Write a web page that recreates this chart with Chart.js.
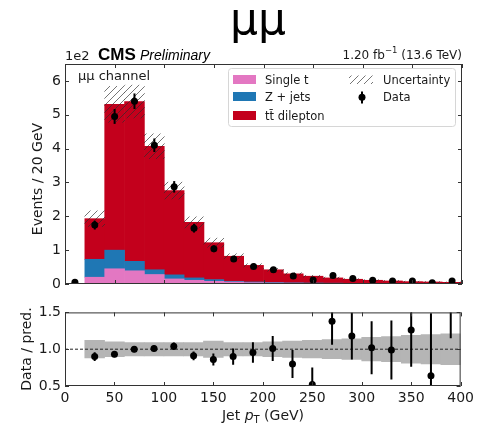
<!DOCTYPE html>
<html>
<head>
<meta charset="utf-8">
<script src="https://cdn.jsdelivr.net/npm/chart.js@4.4.1/dist/chart.umd.min.js"></script>
<style>
  body { margin: 0; background: #fff; }
  #wrap { position: relative; width: 478px; height: 427px; }
  canvas { position: absolute; left: 0; }
  #main { top: 0; }
  #ratio { top: 300px; }
</style>
</head>
<body>
<div id="wrap">
  <canvas id="main" width="478" height="300"></canvas>
  <canvas id="ratio" width="478" height="127"></canvas>
</div>
<script>
// jet pT bins (GeV), bin centres, 20 GeV wide
const ptBins = [10, 30, 50, 70, 90, 110, 130, 150, 170, 190, 210, 230, 250, 270, 290, 310, 330, 350, 370, 390];

// predicted events per bin, in units of 1e2
const singleTop = [0, 0.20, 0.45, 0.39, 0.28, 0.15, 0.11, 0.08, 0.06, 0.04, 0.03, 0.025, 0.02, 0.015, 0.012, 0.01, 0.008, 0.007, 0.006, 0.005];
const zJets     = [0, 0.53, 0.55, 0.28, 0.14, 0.12, 0.07, 0.05, 0.02, 0.02, 0.015, 0.01, 0.01, 0.01, 0.008, 0.005, 0.004, 0.003, 0.002, 0.002];
const ttDilep   = [0.01, 1.20, 4.31, 4.72, 3.65, 2.49, 1.64, 1.09, 0.74, 0.49, 0.375, 0.265, 0.20, 0.155, 0.12, 0.095, 0.078, 0.06, 0.052, 0.043];
// relative uncertainty on the prediction
const predUnc   = [0, 0.12, 0.10, 0.09, 0.09, 0.09, 0.09, 0.11, 0.09, 0.09, 0.10, 0.11, 0.12, 0.13, 0.14, 0.16, 0.17, 0.19, 0.20, 0.21];

// observed data (1e2 events) and stat errors
const dataVals = [0.05, 1.74, 4.95, 5.40, 4.10, 2.87, 1.65, 1.04, 0.74, 0.52, 0.42, 0.24, 0.12, 0.25, 0.165, 0.11, 0.089, 0.09, 0.038, 0.09];
const dataErr  = [0.02, 0.13, 0.22, 0.23, 0.20, 0.17, 0.13, 0.10, 0.09, 0.07, 0.065, 0.05, 0.035, 0.05, 0.04, 0.033, 0.03, 0.03, 0.02, 0.03];

// data / prediction
const ratioVals = [null, 0.90, 0.93, 1.00, 1.01, 1.04, 0.91, 0.86, 0.90, 0.955, 1.01, 0.80, 0.52, 1.38, 1.18, 1.02, 0.99, 1.26, 0.64, 1.80];
const ratioErr  = [null, 0.06, 0.04, 0.04, 0.04, 0.05, 0.06, 0.08, 0.11, 0.14, 0.17, 0.19, 0.23, 0.32, 0.32, 0.36, 0.40, 0.50, 0.85, 0.65];

const ptTicks = [0, 50, 100, 150, 200, 250, 300, 350, 400];

const FAM = "'DejaVu Sans', sans-serif";
const INK = '#1a1a1a';

const totals = ptBins.map((_, i) => singleTop[i] + zJets[i] + ttDilep[i]);

// "///" hatch for the uncertainty band
function makeHatch(ctx) {
  const tile = document.createElement('canvas');
  tile.width = tile.height = 7;
  const g = tile.getContext('2d');
  g.strokeStyle = 'rgba(45,45,45,0.65)';
  g.lineWidth = 1;
  g.beginPath();
  g.moveTo(-1, 8); g.lineTo(8, -1);
  g.moveTo(-1, 1); g.lineTo(1, -1);
  g.moveTo(6, 8); g.lineTo(8, 6);
  g.stroke();
  return ctx.createPattern(tile, 'repeat');
}

function text(ctx, str, x, y, font, align, color) {
  ctx.font = font;
  ctx.fillStyle = color || INK;
  ctx.textAlign = align || 'left';
  ctx.textBaseline = 'alphabetic';
  ctx.fillText(str, x, y);
}

function vtext(ctx, str, x, y, font) {
  ctx.save();
  ctx.translate(x, y);
  ctx.rotate(-Math.PI / 2);
  ctx.font = font;
  ctx.fillStyle = INK;
  ctx.textAlign = 'center';
  ctx.textBaseline = 'middle';
  ctx.fillText(str, 0, 0);
  ctx.restore();
}

// vertical error bars for any dataset carrying an `errors` array
const errorBars = {
  id: 'errorBars',
  afterDatasetsDraw(chart) {
    const { ctx, chartArea: a } = chart;
    ctx.save();
    ctx.beginPath();
    ctx.rect(a.left, a.top, a.right - a.left, a.bottom - a.top);
    ctx.clip();
    ctx.strokeStyle = '#000';
    ctx.lineWidth = 2;
    chart.data.datasets.forEach((ds, di) => {
      if (!ds.errors) return;
      const meta = chart.getDatasetMeta(di);
      const ys = chart.scales[meta.yAxisID];
      meta.data.forEach((pt, i) => {
        const v = ds.data[i].y, e = ds.errors[i];
        if (v == null || e == null) return;
        ctx.beginPath();
        ctx.moveTo(pt.x, ys.getPixelForValue(v - e));
        ctx.lineTo(pt.x, ys.getPixelForValue(v + e));
        ctx.stroke();
      });
    });
    ctx.restore();
  }
};

// axes frame with inward ticks on all four sides
function frame(yId) {
  return {
    id: 'frame',
    afterDatasetsDraw(chart) {
      const { ctx, chartArea: a, scales } = chart;
      const xs = scales.x, ys = scales[yId];
      ctx.save();
      ctx.strokeStyle = '#333';
      ctx.lineWidth = 1;
      ctx.beginPath();
      xs.ticks.forEach(t => {
        const px = Math.round(xs.getPixelForValue(t.value)) + 0.5;
        ctx.moveTo(px, a.bottom); ctx.lineTo(px, a.bottom - 4);
        ctx.moveTo(px, a.top); ctx.lineTo(px, a.top + 4);
      });
      ys.ticks.forEach(t => {
        const py = Math.round(ys.getPixelForValue(t.value)) + 0.5;
        ctx.moveTo(a.left, py); ctx.lineTo(a.left + 4, py);
        ctx.moveTo(a.right, py); ctx.lineTo(a.right - 4, py);
      });
      ctx.stroke();
      ctx.strokeRect(a.left + 0.5, a.top + 0.5, a.right - a.left - 1, a.bottom - a.top - 1);
      ctx.restore();
    }
  };
}

// title, CMS label, lumi, channel tag, y title
const mainText = {
  id: 'mainText',
  afterDraw(chart) {
    const ctx = chart.ctx;
    ctx.save();
    text(ctx, 'μμ', 258, 34, `44px ${FAM}`, 'center', '#000');
    text(ctx, '1e2', 65, 60, `13px ${FAM}`);
    text(ctx, 'CMS', 98, 60, "bold 17px 'Liberation Sans', Arial, sans-serif", 'left', '#000');
    text(ctx, 'Preliminary', 140, 60, "italic 14px 'Liberation Sans', Arial, sans-serif", 'left', '#000');

    const head = '1.20 fb', sup = '\u22121', tail = ' (13.6 TeV)';
    ctx.font = `12px ${FAM}`;
    const w1 = ctx.measureText(head).width, w3 = ctx.measureText(tail).width;
    ctx.font = `8.5px ${FAM}`;
    const w2 = ctx.measureText(sup).width;
    let x = 462 - (w1 + w2 + w3);
    text(ctx, head, x, 59, `12px ${FAM}`); x += w1;
    text(ctx, sup, x, 53, `8.5px ${FAM}`); x += w2;
    text(ctx, tail, x, 59, `12px ${FAM}`);

    text(ctx, 'μμ channel', 78, 80, `13px ${FAM}`);
    vtext(ctx, 'Events / 20 GeV', 38, 179, `14px ${FAM}`);
    ctx.restore();
  }
};

// two-column legend inside the upper right of the plot
const legendBox = {
  id: 'legendBox',
  afterDraw(chart) {
    const ctx = chart.ctx;
    const ds = chart.data.datasets;
    const find = l => ds.find(d => d.label === l);
    const font = `11.5px ${FAM}`;
    ctx.save();
    ctx.beginPath();
    ctx.roundRect(228.5, 68.5, 227, 58, 3);
    ctx.fillStyle = 'rgba(255,255,255,0.8)';
    ctx.fill();
    ctx.strokeStyle = '#d6d6d6';
    ctx.stroke();

    const base = [84, 101, 120];
    ['Single t', 'Z + jets', 'tt\u0304 dilepton'].forEach((lab, i) => {
      ctx.fillStyle = find(lab).backgroundColor;
      ctx.fillRect(233, base[i] - 9, 23, 9);
      text(ctx, lab, 265, base[i], font);
    });

    ctx.fillStyle = find('Uncertainty').backgroundColor;
    ctx.fillRect(349, base[0] - 8.5, 24, 8.5);
    text(ctx, 'Uncertainty', 383, base[0], font);

    ctx.strokeStyle = '#000';
    ctx.lineWidth = 2;
    ctx.beginPath();
    ctx.moveTo(362, 91.5); ctx.lineTo(362, 103.5);
    ctx.stroke();
    ctx.beginPath();
    ctx.arc(362, 97.3, 3.5, 0, Math.PI * 2);
    ctx.fillStyle = '#000';
    ctx.fill();
    text(ctx, 'Data', 383, base[1], font);
    ctx.restore();
  }
};

const ratioText = {
  id: 'ratioText',
  afterDraw(chart) {
    const ctx = chart.ctx;
    ctx.save();
    vtext(ctx, 'Data / pred.', 27, 49, `14px ${FAM}`);
    // Jet p_T (GeV), italic p with roman subscript T
    const f = `14px ${FAM}`, fi = `oblique 14px ${FAM}`, fs = `10px ${FAM}`;
    const parts = [['Jet ', f, 0], ['p', fi, 0], ['T', fs, 3], [' (GeV)', f, 0]];
    let w = 0;
    parts.forEach(p => { ctx.font = p[1]; p.push(ctx.measureText(p[0]).width); w += p[3]; });
    let x = 263 - w / 2;
    parts.forEach(p => { text(ctx, p[0], x, 120 + p[2], p[1]); x += p[3]; });
    ctx.restore();
  }
};

const tickFont = { family: FAM, size: 14 };

const mainCanvas = document.getElementById('main');
const hatch = makeHatch(mainCanvas.getContext('2d'));

const histo = (vals) => ptBins.map((x, i) => ({ x, y: vals[i] }));
const barBase = { grouped: false, categoryPercentage: 1, barPercentage: 1, borderWidth: 0 };

// datasets listed top-most first; the three MC samples stack bottom-up
new Chart(mainCanvas, {
  type: 'bar',
  data: {
    datasets: [
      {
        type: 'line', label: 'Data', yAxisID: 'yU',
        data: histo(dataVals), errors: dataErr,
        showLine: false, pointRadius: 3.5, pointBorderWidth: 0,
        pointBackgroundColor: '#000', borderColor: '#000', clip: 0
      },
      {
        ...barBase, label: 'Uncertainty', yAxisID: 'yU',
        data: ptBins.map((x, i) => ({ x, y: predUnc[i] ? [totals[i] * (1 - predUnc[i]), totals[i] * (1 + predUnc[i])] : null })),
        backgroundColor: hatch
      },
      { ...barBase, label: 'Single t', data: histo(singleTop), backgroundColor: '#e377c2' },
      { ...barBase, label: 'Z + jets', data: histo(zJets), backgroundColor: '#1f77b4' },
      { ...barBase, label: 'tt\u0304 dilepton', data: histo(ttDilep), backgroundColor: '#c3001c' }
    ]
  },
  options: {
    responsive: false,
    devicePixelRatio: 1,
    animation: false,
    events: [],
    layout: { padding: { left: 0, right: 16, top: 64, bottom: 0 } },
    plugins: { legend: { display: false }, tooltip: { enabled: false } },
    scales: {
      x: {
        type: 'linear', min: 0, max: 400, offset: false,
        ticks: { display: false, stepSize: 50 },
        grid: { display: false }, border: { display: false },
        afterFit: s => { s.height = 16; }
      },
      y: {
        stacked: true, min: 0, max: 6.5,
        ticks: { stepSize: 1, includeBounds: false, padding: 4, color: INK, font: tickFont },
        grid: { display: false, drawTicks: false }, border: { display: false },
        afterFit: s => { s.width = 65; }
      },
      yU: { display: false, min: 0, max: 6.5 }
    }
  },
  plugins: [errorBars, frame('y'), mainText, legendBox]
});

new Chart(document.getElementById('ratio'), {
  type: 'bar',
  data: {
    datasets: [
      {
        type: 'line', label: 'Data',
        data: histo(ratioVals), errors: ratioErr,
        showLine: false, pointRadius: 3.5, pointBorderWidth: 0,
        pointBackgroundColor: '#000', borderColor: '#000', clip: 0
      },
      {
        type: 'line', label: 'unity',
        data: [{ x: 0, y: 1 }, { x: 400, y: 1 }],
        borderColor: '#222', borderWidth: 1, borderDash: [3, 2], pointRadius: 0
      },
      {
        ...barBase, label: 'Uncertainty',
        data: ptBins.map((x, i) => ({ x, y: predUnc[i] ? [1 - predUnc[i], 1 + predUnc[i]] : null })),
        backgroundColor: '#b5b5b5'
      }
    ]
  },
  options: {
    responsive: false,
    devicePixelRatio: 1,
    animation: false,
    events: [],
    layout: { padding: { left: 0, right: 16, top: 12, bottom: 0 } },
    plugins: { legend: { display: false }, tooltip: { enabled: false } },
    scales: {
      x: {
        type: 'linear', min: 0, max: 400, offset: false,
        afterBuildTicks: s => { s.ticks = ptTicks.map(v => ({ value: v })); },
        ticks: { autoSkip: false, maxRotation: 0, padding: 4, color: INK, font: tickFont },
        grid: { display: false, drawTicks: false }, border: { display: false },
        afterFit: s => { s.height = 41; }
      },
      y: {
        min: 0.5, max: 1.5,
        ticks: { stepSize: 0.5, padding: 4, color: INK, font: tickFont, callback: v => v.toFixed(1) },
        grid: { display: false, drawTicks: false }, border: { display: false },
        afterFit: s => { s.width = 65; }
      }
    }
  },
  plugins: [errorBars, frame('y'), ratioText]
});
</script>
</body>
</html>
